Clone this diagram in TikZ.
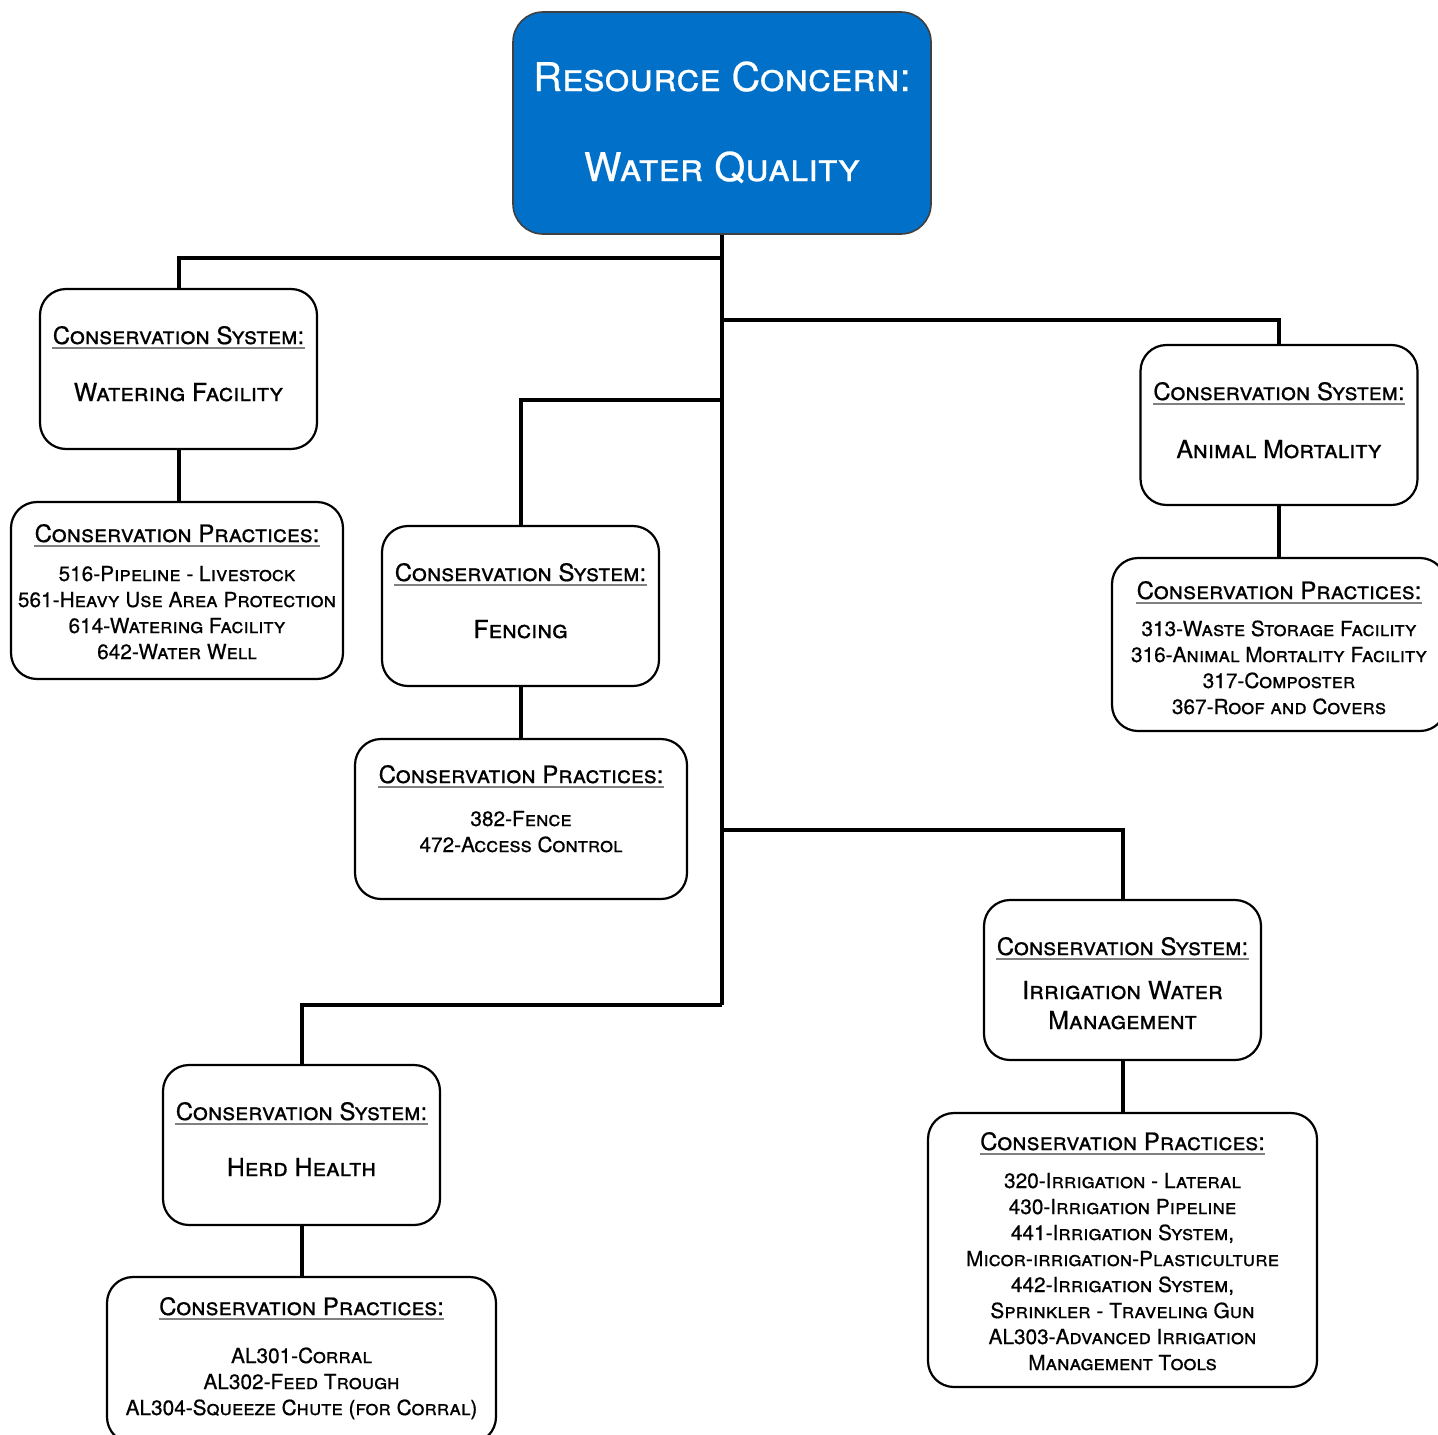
\documentclass[tikz,border=0pt]{standalone}
\usepackage{fontspec}
\setmainfont{TeX Gyre Heros}[FakeBold=0.6]
\definecolor{rootblue}{RGB}{0,112,200}
\begin{document}
\begin{tikzpicture}[x=0.5pt,y=-0.5pt,
  box/.style={draw=black,line width=1.1pt,rounded corners=13pt,fill=white,inner sep=0pt},
  sysbox/.style={box,minimum width=138.5pt,minimum height=80pt},
  rootbox/.style={draw=black!75,line width=0.8pt,rounded corners=15pt,fill=rootblue,inner sep=0pt,minimum width=209pt,minimum height=111pt},
  conn/.style={line width=2pt,line join=miter},
  uline/.style={draw=black!50,line width=0.6pt},
  roottxt/.style={inner sep=0pt,anchor=base,text=white,font=\fontsize{19.8}{24}\selectfont\scshape},
  hdr/.style={inner sep=0pt,anchor=base,font=\fontsize{12}{15}\selectfont\scshape},
  sub/.style={inner sep=0pt,anchor=base,align=center,font=\fontsize{12.4}{15}\selectfont\scshape},
  lst/.style={inner sep=0pt,anchor=base,align=center,font=\fontsize{10.4}{13}\selectfont\scshape},
]
\useasboundingbox (0,0) rectangle (1438,1434);

% boxes
\node[rootbox] (root) at (722,123) {};
\node[sysbox] (wsys) at (178.5,369) {};
\node[box,minimum width=166pt,minimum height=88.5pt] (wprac) at (177,590.5) {};
\node[sysbox] (asys) at (1279,425) {};
\node[box,minimum width=167pt,minimum height=86.5pt] (aprac) at (1279,644.5) {};
\node[sysbox] (fsys) at (520.5,606) {};
\node[box,minimum width=166pt,minimum height=80pt] (fprac) at (521,819) {};
\node[sysbox] (isys) at (1122.5,980) {};
\node[box,minimum width=194.5pt,minimum height=137pt] (iprac) at (1122.5,1250) {};
\node[sysbox] (hsys) at (301.5,1145) {};
\node[box,minimum width=194.5pt,minimum height=83pt] (hprac) at (301.5,1360) {};

% connectors
\coordinate (jW) at (722,258);
\coordinate (jA) at (722,320);
\coordinate (jF) at (722,400);
\coordinate (jI) at (722,830);
\coordinate (jH) at (722,1005);
\draw[conn] (root.south) -- (jH);
\draw[conn] (jW) -| (wsys.north);
\draw[conn] (jA) -| (asys.north);
\draw[conn] (jF) -| (fsys.north);
\draw[conn] (jI) -| (isys.north);
\draw[conn] (jH) -| (hsys.north);
\draw[conn] (wsys.south) -- (wsys.south |- wprac.north);
\draw[conn] (asys.south) -- (asys.south |- aprac.north);
\draw[conn] (fsys.south) -- (fsys.south |- fprac.north);
\draw[conn] (isys.south) -- (isys.south |- iprac.north);
\draw[conn] (hsys.south) -- (hsys.south |- hprac.north);

% root text
\node[roottxt] (rootA) at (722,91) {Resource Concern:};
\node[roottxt] (rootB) at (722,181) {Water Quality};

% watering facility (multi-line nodes anchored at the baseline of their last line)
\node[hdr] (wsysH) at (178.5,344) {Conservation System:};
\node[sub] (wsysT) at (178.5,401) {Watering Facility};
\node[hdr] (wpracH) at (177,542) {Conservation Practices:};
\node[lst] (wpracT) at (177,659) {516-Pipeline - Livestock\\561-Heavy Use Area Protection\\614-Watering Facility\\642-Water Well};

% animal mortality
\node[hdr] (asysH) at (1279,400) {Conservation System:};
\node[sub] (asysT) at (1279,458) {Animal Mortality};
\node[hdr] (apracH) at (1279,599) {Conservation Practices:};
\node[lst] (apracT) at (1279,714) {313-Waste Storage Facility\\316-Animal Mortality Facility\\317-Composter\\367-Roof and Covers};

% fencing
\node[hdr] (fsysH) at (520.5,581) {Conservation System:};
\node[sub] (fsysT) at (520.5,638) {Fencing};
\node[hdr] (fpracH) at (521,783) {Conservation Practices:};
\node[lst] (fpracT) at (521,852) {382-Fence\\472-Access Control};

% irrigation
\node[hdr] (isysH) at (1122.5,955) {Conservation System:};
\node[sub] (isysT) at (1122.5,1029) {Irrigation Water\\Management};
\node[hdr] (ipracH) at (1122.5,1150) {Conservation Practices:};
\node[lst] (ipracT) at (1122.5,1370) {320-Irrigation - Lateral\\430-Irrigation Pipeline\\441-Irrigation System,\\Micor-irrigation-Plasticulture\\442-Irrigation System,\\Sprinkler - Traveling Gun\\AL303-Advanced Irrigation\\Management Tools};

% herd health
\node[hdr] (hsysH) at (301.5,1120) {Conservation System:};
\node[sub] (hsysT) at (301.5,1176) {Herd Health};
\node[hdr] (hpracH) at (301.5,1315) {Conservation Practices:};
\node[lst] (hpracT) at (301.5,1415) {AL301-Corral\\AL302-Feed Trough\\AL304-Squeeze Chute (for Corral)};

% underlines
\foreach \h in {wsysH,wpracH,asysH,apracH,fsysH,fpracH,isysH,ipracH,hsysH,hpracH}
  \draw[uline] ([yshift=-2pt]\h.base west) -- ([yshift=-2pt]\h.base east);
\end{tikzpicture}
\end{document}
